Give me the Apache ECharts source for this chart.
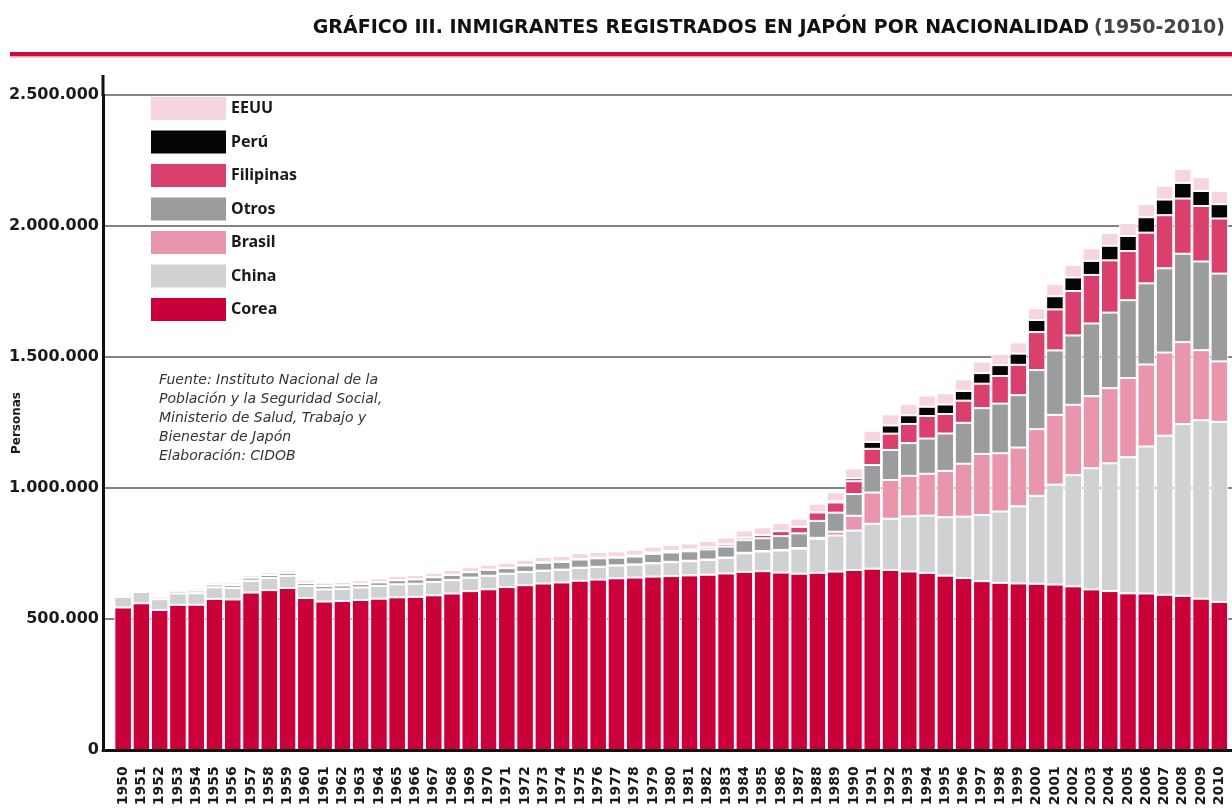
<!DOCTYPE html>
<html>
<head>
<meta charset="utf-8">
<title>Inmigrantes registrados en Japón por nacionalidad</title>
<script src="https://cdn.jsdelivr.net/npm/echarts@6/dist/echarts.min.js"></script>
<style>
  html, body { margin: 0; padding: 0; background: #fff; }
  #chart { width: 1232px; height: 810px; }
</style>
</head>
<body>
<div id="chart"></div>
<script>
// Years on the x axis
const years = [
  '1950', '1951', '1952', '1953', '1954', '1955', '1956', '1957', '1958', '1959',
  '1960', '1961', '1962', '1963', '1964', '1965', '1966', '1967', '1968', '1969',
  '1970', '1971', '1972', '1973', '1974', '1975', '1976', '1977', '1978', '1979',
  '1980', '1981', '1982', '1983', '1984', '1985', '1986', '1987', '1988', '1989',
  '1990', '1991', '1992', '1993', '1994', '1995', '1996', '1997', '1998', '1999',
  '2000', '2001', '2002', '2003', '2004', '2005', '2006', '2007', '2008', '2009', '2010'
];

// Persons per nationality
const corea = [
  544903, 561000, 535500, 555000, 555500, 577682, 575500, 601800, 611100, 619096,
  581257, 567500, 569400, 573300, 578600, 583537, 585300, 591300, 598100, 607300,
  614202, 622700, 629800, 636300, 640300, 647156, 651300, 656200, 659000, 662600,
  664536, 667300, 669900, 674600, 680700, 683313, 677959, 673787, 677140, 681838,
  687940, 693050, 688144, 682276, 676793, 666376, 657159, 645373, 638828, 636548,
  635269, 632405, 625422, 613791, 607419, 598687, 598219, 593489, 589239, 578495, 565989
];
const china = [
  40481, 43000, 41000, 43400, 43800, 43865, 44200, 45100, 45800, 46200,
  45535, 46100, 46700, 47600, 48500, 49418, 49900, 50500, 51000, 51200,
  51481, 50700, 50200, 48700, 48400, 48728, 48200, 48500, 49200, 50300,
  52896, 54200, 56400, 59100, 71000, 74924, 84397, 95477, 129269, 137499,
  150339, 171071, 195334, 210138, 218585, 222991, 234264, 252164, 272230, 294201,
  335575, 381225, 424282, 462396, 487570, 519561, 560741, 606889, 655377, 680518, 687156
];
const brasil = [
  200, 200, 200, 300, 300, 300, 300, 300, 300, 300,
  300, 300, 300, 300, 300, 300, 300, 400, 400, 400,
  400, 400, 500, 500, 600, 700, 800, 900, 1000, 1200,
  1492, 1600, 1600, 1700, 1800, 1955, 2135, 2250, 4159, 14528,
  56429, 119333, 147803, 154650, 159619, 176440, 201795, 233254, 222217, 224299,
  254394, 265962, 268332, 274700, 286557, 302080, 312979, 316967, 312582, 267456, 230552
];
const otros = [
  7600, 6300, 9000, 10000, 9500, 10500, 10800, 11500, 11800, 12000,
  11500, 12500, 12300, 12800, 13200, 15500, 16500, 17800, 19500, 20400,
  22400, 21000, 24500, 30000, 29500, 31200, 32000, 29000, 30000, 35500,
  35600, 36000, 38500, 42000, 48000, 48635, 52601, 56043, 64622, 72644,
  82874, 104821, 114612, 124819, 134344, 142800, 156142, 174567, 189442, 199805,
  225308, 245907, 264621, 277421, 288213, 296848, 309450, 321489, 337205, 338323, 334970
];
const filipinas = [
  370, 390, 400, 410, 420, 430, 440, 450, 460, 480,
  500, 520, 540, 560, 590, 620, 650, 690, 720, 780,
  900, 1000, 1100, 1300, 1500, 2000, 2500, 3000, 3800, 4600,
  5547, 6400, 7300, 8300, 9600, 12261, 18897, 25017, 32185, 38925,
  49092, 61837, 62218, 73057, 85968, 74297, 84509, 93265, 105308, 115685,
  144871, 156667, 169359, 185237, 199394, 187261, 193488, 202592, 210617, 211716, 210181
];
const peru = [
  0, 0, 0, 0, 0, 0, 0, 0, 0, 0,
  0, 0, 0, 0, 0, 0, 0, 0, 0, 0,
  0, 0, 0, 0, 0, 100, 100, 200, 200, 200,
  300, 300, 300, 400, 400, 480, 553, 615, 864, 4121,
  10279, 26281, 31051, 33169, 35382, 36269, 37099, 40394, 41317, 42773,
  46171, 50052, 51772, 53649, 55750, 57728, 58721, 59696, 59723, 57464, 54636
];
const eeuu = [
  4962, 5600, 7000, 7200, 7800, 8566, 9100, 9800, 10200, 10800,
  11594, 12600, 13100, 14000, 14900, 15915, 16200, 16900, 17800, 18500,
  19045, 19500, 20100, 20600, 21200, 21976, 21700, 21300, 21500, 22000,
  22401, 23300, 24500, 25600, 27100, 29044, 30695, 30836, 32766, 34900,
  38364, 42498, 42482, 42639, 43320, 43198, 44168, 43690, 42774, 42802,
  44856, 46244, 47970, 47836, 48844, 49390, 51321, 51851, 52683, 52149, 50667
];

// Y axis ticks
const yMax = 2500000;
const yStep = 500000;

// Stack order bottom -> top
const stackSeries = [
  { name: 'Corea', data: corea, color: '#c9003a' },
  { name: 'China', data: china, color: '#d0d1d3' },
  { name: 'Brasil', data: brasil, color: '#e995ad' },
  { name: 'Otros', data: otros, color: '#9b9c9e' },
  { name: 'Filipinas', data: filipinas, color: '#d9406d' },
  { name: 'Perú', data: peru, color: '#050505' },
  { name: 'EEUU', data: eeuu, color: '#f7d5df' }
];
const legendOrder = ['EEUU', 'Perú', 'Filipinas', 'Otros', 'Brasil', 'China', 'Corea'];

const fmtThousands = v => String(v).replace(/\B(?=(\d{3})+(?!\d))/g, '.');

const chart = echarts.init(document.getElementById('chart'));

const option = {
  backgroundColor: '#fff',
  animation: false,
  title: {
    text: '{b|GRÁFICO III. INMIGRANTES REGISTRADOS EN JAPÓN POR NACIONALIDAD} {n|(1950-2010)}',
    right: 2,
    top: 14,
    textStyle: {
      rich: {
        b: { fontFamily: 'DejaVu Sans', fontWeight: 'bold', fontSize: 19, color: '#111' },
        n: { fontFamily: 'DejaVu Sans', fontSize: 19, color: '#444' }
      }
    }
  },
  legend: {
    orient: 'vertical',
    left: 151,
    top: 97,
    padding: 0,
    itemWidth: 75,
    itemHeight: 23,
    itemGap: 10.5,
    icon: 'rect',
    data: legendOrder,
    itemStyle: { borderWidth: 0 },
    textStyle: {
      fontFamily: 'Noto Sans',
      fontWeight: 'bold',
      fontSize: 16,
      color: '#1a1a1a'
    }
  },
  grid: [
    // bars
    { left: 114, right: 3.5, top: 95, bottom: 59.7, containLabel: false, outerBoundsMode: 'none' },
    // frame: axis lines, grid lines and labels
    { left: 103, right: 0, top: 95, bottom: 59.7, containLabel: false, outerBoundsMode: 'none' }
  ],
  xAxis: [
    {
      type: 'category',
      gridIndex: 0,
      data: years,
      axisLine: { show: false },
      axisTick: { show: false },
      axisLabel: {
        interval: 0,
        rotate: 90,
        margin: 16,
        fontFamily: 'DejaVu Sans',
        fontWeight: 'bold',
        fontSize: 14,
        color: '#1a1a1a'
      }
    },
    {
      type: 'value',
      gridIndex: 1,
      min: 0,
      max: 1,
      z: 5,
      axisLine: { show: true, lineStyle: { color: '#111', width: 3 } },
      axisTick: { show: false },
      axisLabel: { show: false },
      splitLine: { show: false }
    }
  ],
  yAxis: [
    {
      type: 'value',
      gridIndex: 0,
      min: 0,
      max: yMax,
      show: false
    },
    {
      type: 'value',
      gridIndex: 1,
      min: 0,
      max: yMax,
      interval: yStep,
      axisLine: { show: true, lineStyle: { color: '#111', width: 3 } },
      axisTick: { show: false },
      axisLabel: {
        margin: 4,
        fontFamily: 'DejaVu Sans',
        fontWeight: 'bold',
        fontSize: 16,
        color: '#1a1a1a',
        formatter: v => fmtThousands(v)
      },
      splitLine: { show: true, lineStyle: { color: '#5a5a5a', width: 1.5 } }
    }
  ],
  graphic: [
    // red rule under the title
    { type: 'rect', left: 10, top: 52, shape: { width: 1222, height: 4 }, style: { fill: '#cc0a3c' } },
    { type: 'rect', left: 10, top: 56, shape: { width: 1222, height: 1.5 }, style: { fill: '#ec9bb0' } },
    // y axis line runs a bit above the top grid line
    { type: 'rect', left: 101.5, top: 75, shape: { width: 3, height: 21 }, style: { fill: '#111' } },
    // y axis title
    {
      type: 'text',
      x: 17,
      y: 423,
      rotation: Math.PI / 2,
      style: {
        text: 'Personas',
        font: 'bold 12px "DejaVu Sans"',
        fill: '#1a1a1a',
        align: 'center',
        verticalAlign: 'middle'
      }
    },
    {
      type: 'text',
      left: 159,
      top: 371,
      style: {
        text: 'Fuente: Instituto Nacional de la\nPoblación y la Seguridad Social,\nMinisterio de Salud, Trabajo y\nBienestar de Japón\nElaboración: CIDOB',
        font: 'italic 14px "DejaVu Sans"',
        lineHeight: 19,
        fill: '#333'
      }
    }
  ],
  series: stackSeries.map(s => ({
    name: s.name,
    type: 'bar',
    stack: 'total',
    xAxisIndex: 0,
    yAxisIndex: 0,
    data: s.data,
    barCategoryGap: '4%',
    itemStyle: { color: s.color, borderColor: '#fff', borderWidth: 1 },
    emphasis: { disabled: true }
  }))
};

chart.setOption(option);
</script>
</body>
</html>
